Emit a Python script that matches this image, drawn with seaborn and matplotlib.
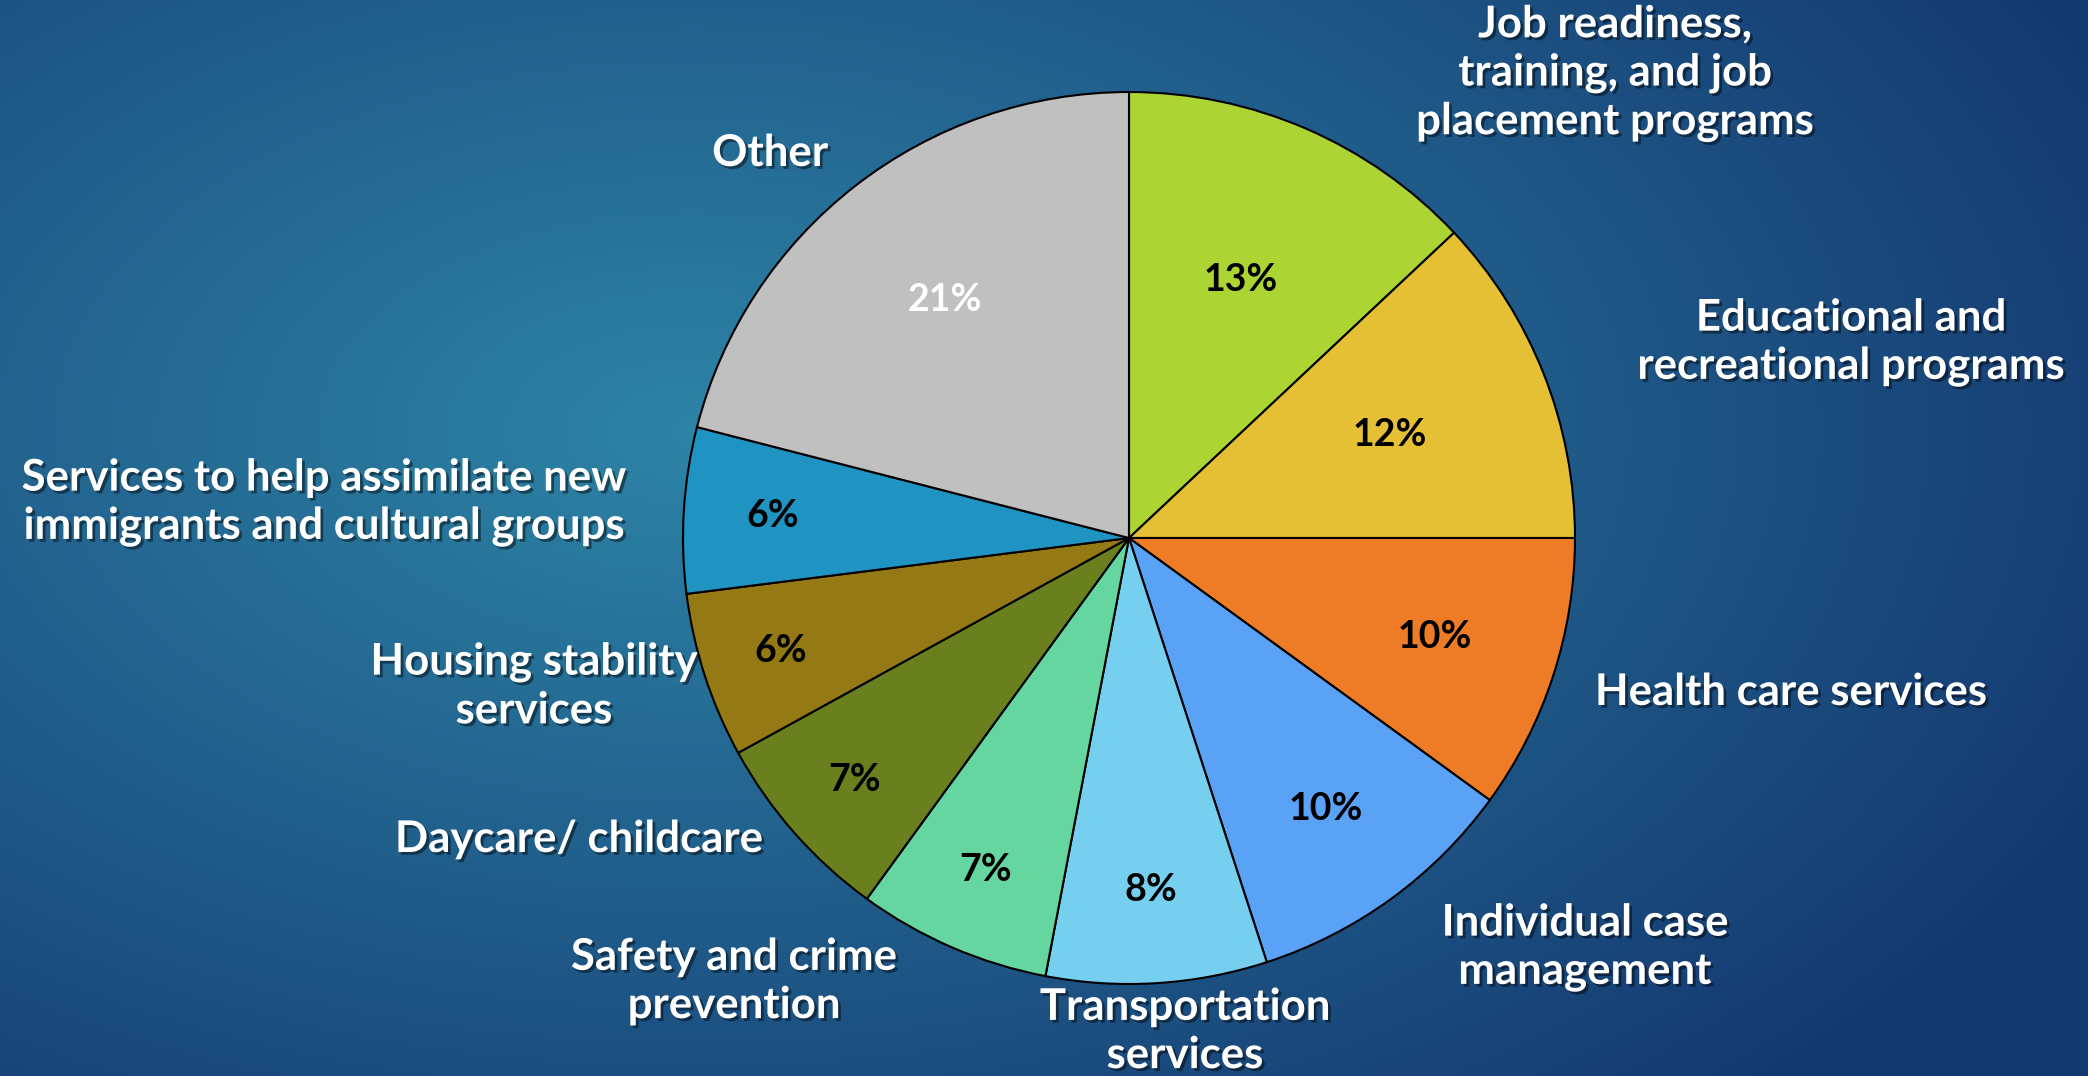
import numpy as np
import matplotlib
matplotlib.use("Agg")
import matplotlib.pyplot as plt
import matplotlib.patheffects as pe
import seaborn as sns

# ---- data ----
categories = [
    "Job readiness,\ntraining, and job\nplacement programs",
    "Educational and\nrecreational programs",
    "Health care services",
    "Individual case\nmanagement",
    "Transportation\nservices",
    "Safety and crime\nprevention",
    "Daycare/ childcare",
    "Housing stability\nservices",
    "Services to help assimilate new\nimmigrants and cultural groups",
    "Other",
]
values = [13, 12, 10, 10, 8, 7, 7, 6, 6, 21]
colors_hex = ["#acd533", "#e5c035", "#ee7b25", "#5aa2f5", "#76cfee",
              "#66d6a0", "#6a801e", "#957914", "#1f93c2", "#c0c0c0"]

sns.set_style("white")
plt.rcParams['font.family'] = ['Lato', 'DejaVu Sans']
palette = sns.color_palette(colors_hex)

W, H = 2088, 1076
fig = plt.figure(figsize=(W / 100, H / 100), dpi=100)

# background gradient
bg = fig.add_axes([0, 0, 1, 1])
yy, xx = np.mgrid[0:H:2, 0:W:2]
cx, cy = 0.33 * W, 0.40 * H
d = np.sqrt(((xx - cx) / (0.75 * W)) ** 2 + ((yy - cy) / (0.85 * H)) ** 2)
d = np.clip(d, 0, 1)
c_in = np.array([0x2d, 0x84, 0xa6]) / 255
c_out = np.array([0x14, 0x38, 0x70]) / 255
img = c_in[None, None, :] * (1 - d[..., None]) + c_out[None, None, :] * d[..., None]
bg.imshow(img, extent=[0, W, H, 0], aspect="auto")
bg.set_xlim(0, W)
bg.set_ylim(H, 0)
bg.axis("off")

ax = fig.add_axes([0, 0, 1, 1])
ax.patch.set_alpha(0)

cxp, cyp, R = 1129, 538, 446
wedges, _ = ax.pie(values, colors=palette, startangle=90, counterclock=False,
                   center=(cxp, cyp), radius=R,
                   wedgeprops=dict(edgecolor="black", linewidth=1.5))
ax.set_xlim(0, W)
ax.set_ylim(0, H)
ax.set_aspect("equal")
ax.axis("off")

# percentage labels
pct_frac = [0.63, 0.63, 0.72, 0.75, 0.79, 0.81, 0.82, 0.82, 0.80, 0.675]
for w, v, f in zip(wedges, values, pct_frac):
    th = np.deg2rad((w.theta1 + w.theta2) / 2)
    col = "white" if v == 21 else "black"
    ax.text(cxp + f * R * np.cos(th), cyp + f * R * np.sin(th), f"{v}%",
            ha="center", va="center", fontsize=27, fontweight="bold", color=col)

# category labels (positions in pixel coords)
label_pos = [(1615, 1003), (1851, 734), (1791, 384), (1585, 129), (1185, 45),
             (734, 95), (579, 237), (534, 390), (324, 574), (770, 923)]
shadow = [pe.SimplePatchShadow(offset=(2, -2), alpha=0.45, shadow_rgbFace="black"), pe.Normal()]
for lab, (x, y) in zip(categories, label_pos):
    ax.text(x, y, lab, ha="center", va="center", fontsize=31.5, fontweight="bold",
            color="white", linespacing=1.25, path_effects=shadow)

fig.savefig("out.png", dpi=100)
